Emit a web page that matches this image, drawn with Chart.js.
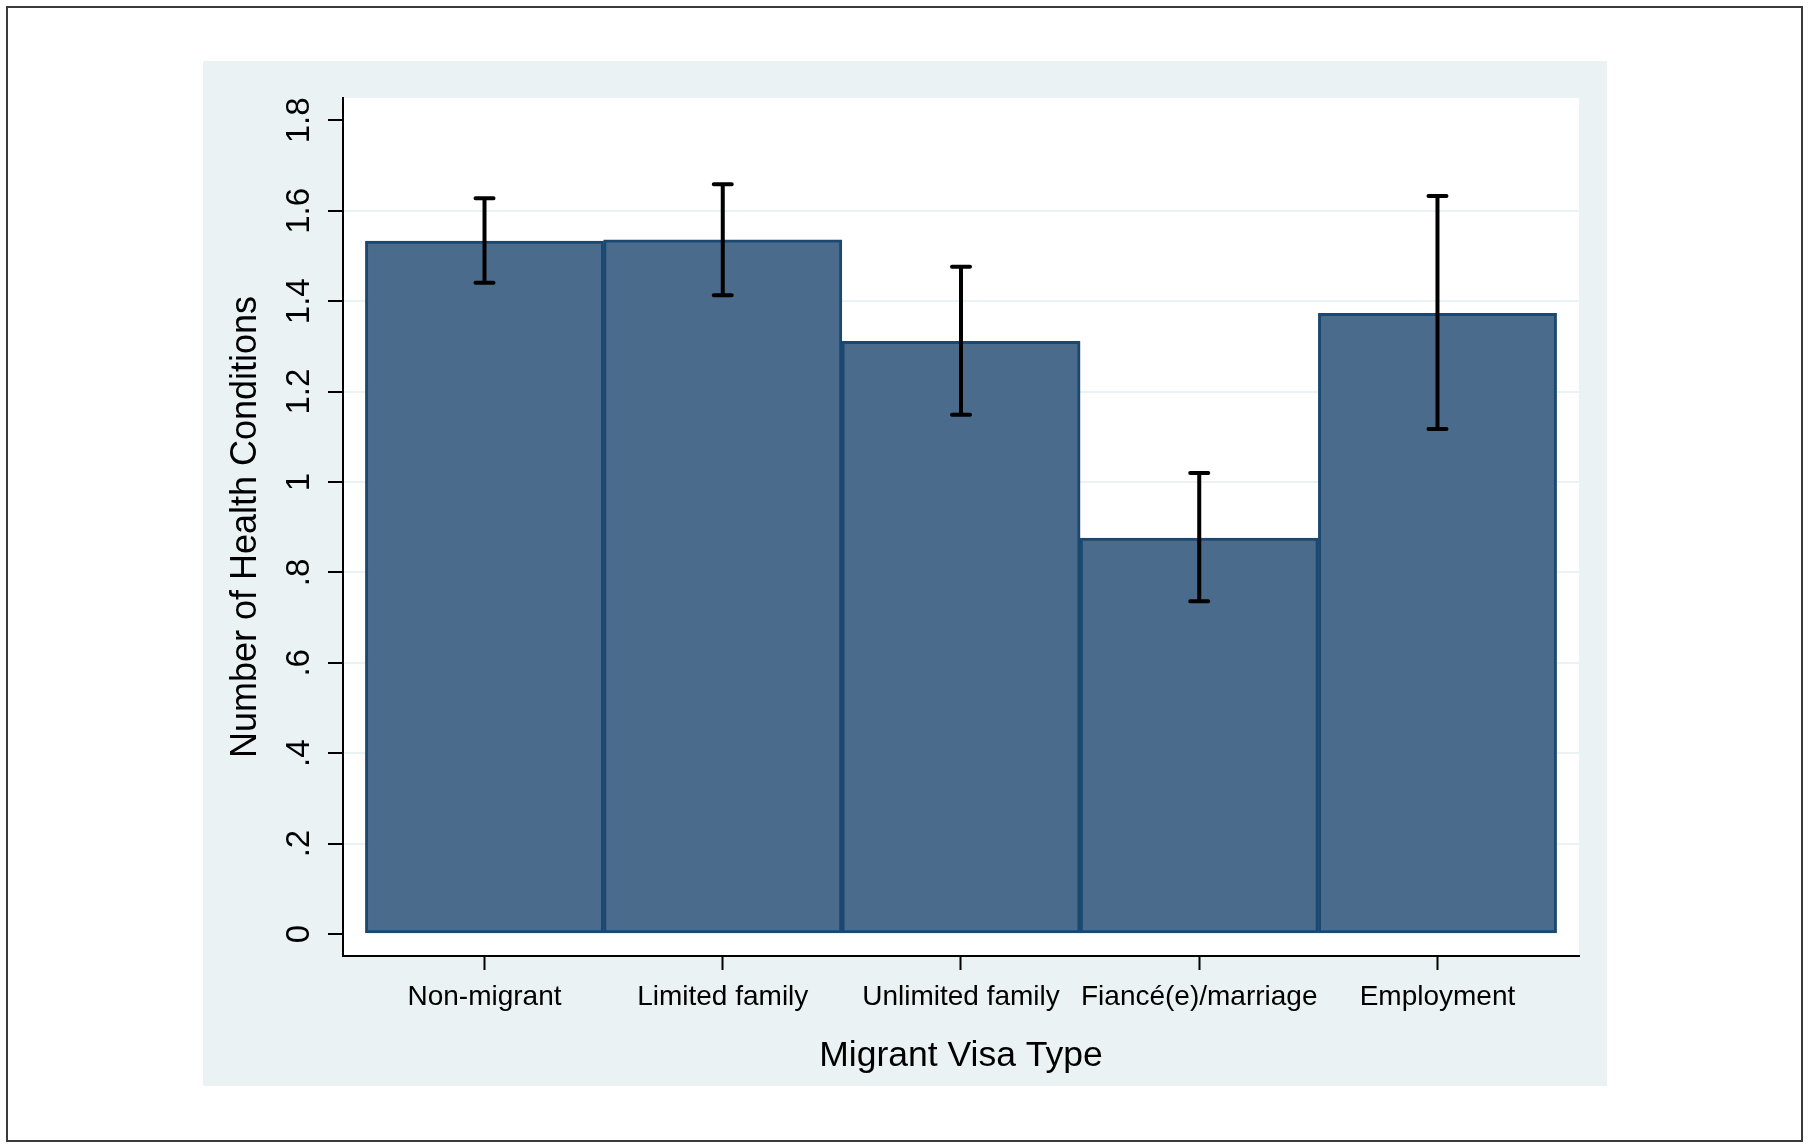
<!DOCTYPE html>
<html>
<head>
<meta charset="utf-8">
<script src="https://cdn.jsdelivr.net/npm/chart.js@4/dist/chart.umd.min.js"></script>
<style>
  html, body { margin: 0; padding: 0; background: #fff; }
  body { width: 1810px; height: 1148px; position: relative; overflow: hidden; }
  #frame {
    position: absolute; left: 6px; top: 6px; width: 1797px; height: 1136px;
    border: 2px solid #3a3a3a; box-sizing: border-box;
  }
  #chart { position: absolute; left: 203px; top: 61px; background: #eaf2f3; }
</style>
</head>
<body>
<div id="frame"></div>
<canvas id="chart" width="1404" height="1025"></canvas>
<script>
"use strict";

// ── Data ───────────────────────────────────────────────────────────────────
const categories = ["Non-migrant", "Limited family", "Unlimited family", "Fiancé(e)/marriage", "Employment"];
const catPos     = [1, 2, 3, 4, 5];
const means      = [1.533, 1.536, 1.311, 0.876, 1.373];
const ciLow      = [1.441, 1.413, 1.149, 0.736, 1.117];
const ciHigh     = [1.628, 1.659, 1.476, 1.020, 1.633];
const yTickVals  = [0, 0.2, 0.4, 0.6, 0.8, 1, 1.2, 1.4, 1.6, 1.8];
const yTickText  = ["0", ".2", ".4", ".6", ".8", "1", "1.2", "1.4", "1.6", "1.8"];

// ── Styles ─────────────────────────────────────────────────────────────────
const FONT = "'Liberation Sans', Arial, Helvetica, sans-serif";
const PANEL = "#eaf2f3";
const BAR_FILL = "#4a6b8c";
const BAR_EDGE = "#1c4870";

// white plot region
const plotBg = {
  id: "plotBg",
  beforeDraw(chart) {
    const { ctx, chartArea: a } = chart;
    ctx.save();
    ctx.fillStyle = "#fff";
    ctx.fillRect(a.left, a.top, a.right - a.left, a.bottom - a.top);
    ctx.restore();
  },
};

// confidence interval caps
const errorBars = {
  id: "errorBars",
  afterDatasetsDraw(chart) {
    const { ctx, scales: { x, y } } = chart;
    ctx.save();
    ctx.strokeStyle = "#000";
    ctx.lineWidth = 4;
    ctx.lineCap = "round";
    catPos.forEach((p, i) => {
      const px = x.getPixelForValue(p);
      const top = y.getPixelForValue(ciHigh[i]);
      const bot = y.getPixelForValue(ciLow[i]);
      ctx.beginPath();
      ctx.moveTo(px, top); ctx.lineTo(px, bot);
      ctx.moveTo(px - 9, top); ctx.lineTo(px + 9, top);
      ctx.moveTo(px - 9, bot); ctx.lineTo(px + 9, bot);
      ctx.stroke();
    });
    ctx.restore();
  },
};

new Chart(document.getElementById("chart"), {
  type: "bar",
  data: {
    datasets: [{
      data: catPos.map((p, i) => ({ x: p, y: means[i] })),
      backgroundColor: BAR_FILL,
      borderColor: BAR_EDGE,
      borderWidth: 3,
      borderSkipped: false,
      barPercentage: 1,
      categoryPercentage: 1,
    }],
  },
  options: {
    responsive: false,
    animation: false,
    layout: { padding: { top: 37, right: 28, left: 0, bottom: 0 } },
    plugins: { legend: { display: false }, tooltip: { enabled: false } },
    scales: {
      x: {
        type: "linear",
        min: 0.406,
        max: 5.594,
        offset: false,
        afterBuildTicks: (s) => { s.ticks = catPos.map((v) => ({ value: v })); },
        afterFit: (s) => { s.height = 130; },
        border: { display: true, color: "#000", width: 2 },
        grid: {
          offset: false, drawOnChartArea: false, drawTicks: true,
          tickLength: 14, tickColor: "#000", tickWidth: 2,
        },
        ticks: {
          padding: 10,
          color: "#000",
          font: { family: FONT, size: 28 },
          callback: (v) => categories[catPos.indexOf(v)],
        },
        title: {
          display: true,
          text: "Migrant Visa Type",
          color: "#000",
          font: { family: FONT, size: 35.5 },
          padding: { top: 0, bottom: 8 },
        },
      },
      y: {
        min: -0.0487,
        max: 1.8496,
        afterBuildTicks: (s) => { s.ticks = yTickVals.map((v) => ({ value: v })); },
        afterFit: (s) => { s.width = 140; },
        border: { display: true, color: "#000", width: 2 },
        grid: {
          color: (c) => (c.tick && (c.tick.value === 0 || c.tick.value === 1.8)) ? "rgba(0,0,0,0)" : PANEL,
          lineWidth: 2,
          tickLength: 15, tickColor: "#000", tickWidth: 2,
        },
        ticks: {
          minRotation: 90,
          maxRotation: 90,
          crossAlign: "center",
          padding: 5,
          color: "#000",
          font: { family: FONT, size: 33 },
          callback: (v) => yTickText[yTickVals.indexOf(v)],
        },
        title: {
          display: true,
          text: "Number of Health Conditions",
          color: "#000",
          font: { family: FONT, size: 36 },
          padding: { top: 21, bottom: 0 },
        },
      },
    },
  },
  plugins: [plotBg, errorBars],
});
</script>
</body>
</html>
